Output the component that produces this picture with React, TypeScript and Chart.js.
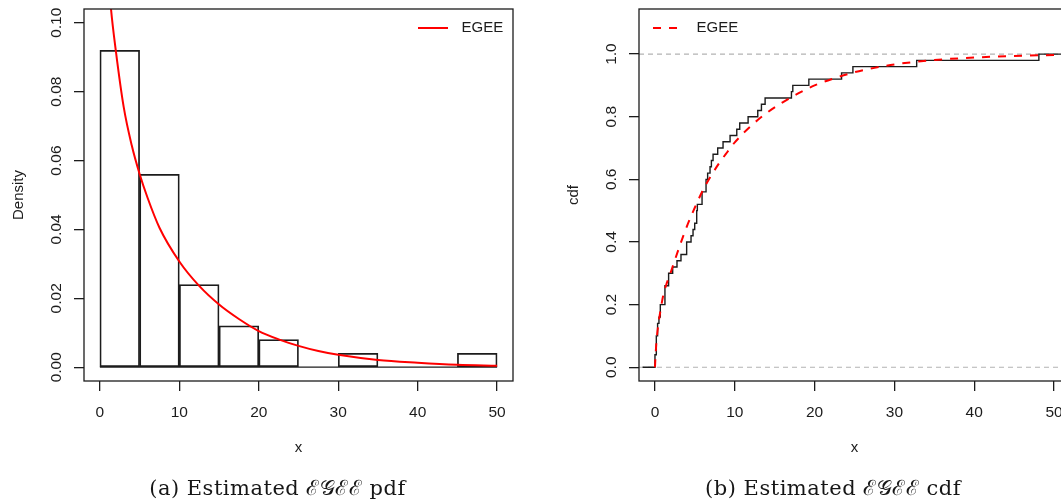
import React, { useEffect, useRef } from "react";
import { Chart, registerables } from "chart.js";

Chart.register(...registerables);

// ---------------- data ----------------
const histBreaks = [0, 5, 10, 15, 20, 25, 30, 35, 40, 45, 50];
const histDensity = [0.092, 0.056, 0.024, 0.012, 0.008, 0, 0.004, 0, 0, 0.004];

const pdfX = [1.2, 1.4, 2, 3, 4, 5, 6, 7.5, 10, 12.5, 15, 17.5, 20, 22.5, 25, 27.5, 30, 35, 40, 45, 50];
const pdfY = [0.11, 0.104, 0.092, 0.0755, 0.0645, 0.0561, 0.0492, 0.0405, 0.0307, 0.0236, 0.0182, 0.014, 0.0105, 0.0081, 0.0062, 0.0047, 0.0036, 0.0021, 0.0013, 0.0007, 0.0004];

const ecdfX = [-1.55, 0, 0.17, 0.33, 0.5, 0.67, 1.25, 1.71, 2.22, 2.76, 3.26, 3.97, 4.52, 4.77, 4.98, 5.23, 5.31, 5.9, 6.4, 6.6, 6.9, 7.07, 7.28, 7.86, 8.53, 9.41, 10.25, 10.62, 11.67, 12.88, 13.34, 13.8, 17.1, 17.27, 19.28, 23.38, 24.8, 32.79, 48.1, 53];
const ecdfY = [0, 0.04, 0.1, 0.14, 0.16, 0.2, 0.26, 0.3, 0.32, 0.34, 0.36, 0.4, 0.42, 0.44, 0.46, 0.5, 0.52, 0.56, 0.6, 0.62, 0.64, 0.66, 0.68, 0.7, 0.72, 0.74, 0.76, 0.78, 0.8, 0.82, 0.84, 0.86, 0.88, 0.9, 0.92, 0.94, 0.96, 0.98, 1.0, 1.0];

const cdfX = [0, 0.1, 0.25, 0.5, 0.75, 1, 1.5, 2, 3, 4, 5, 6, 7, 8, 9, 10, 12, 14, 16, 18, 20, 22.5, 25, 27.5, 30, 35, 40, 45, 50, 53];
const cdfY = [0, 0.05, 0.1, 0.15, 0.19, 0.225, 0.27, 0.305, 0.38, 0.45, 0.51, 0.565, 0.61, 0.65, 0.685, 0.718, 0.77, 0.812, 0.846, 0.875, 0.9, 0.923, 0.942, 0.956, 0.967, 0.981, 0.989, 0.994, 0.997, 0.998];

const refLinesY = [0, 1];

const xTicks = [0, 10, 20, 30, 40, 50];
const pdfYTicks = [0, 0.02, 0.04, 0.06, 0.08, 0.1];
const pdfYTickLabels = ["0.00", "0.02", "0.04", "0.06", "0.08", "0.10"];
const cdfYTicks = [0, 0.2, 0.4, 0.6, 0.8, 1.0];
const cdfYTickLabels = ["0.0", "0.2", "0.4", "0.6", "0.8", "1.0"];

const legendLabel = "EGEE";
const pdfYTitle = "Density";
const cdfYTitle = "cdf";
const xTitle = "x";
const captionA = "(a) Estimated \u2130\u{1D4A2}\u2130\u2130 pdf";
const captionB = "(b) Estimated \u2130\u{1D4A2}\u2130\u2130 cdf";

// ---------------- style ----------------
const FONT = "'Liberation Sans', Arial, Helvetica, sans-serif";
const INK = "#1c1c1c";
const RED = "#ff0000";

const rPlotPlugin = {
  id: "rPlot",
  afterDraw(chart: any, _args: any, opts: any) {
    const { ctx, chartArea } = chart;
    const ys = chart.scales.y;
    ctx.save();
    // box
    ctx.strokeStyle = INK;
    ctx.lineWidth = 1.3;
    ctx.strokeRect(chartArea.left, chartArea.top, chartArea.right - chartArea.left, chartArea.bottom - chartArea.top);
    // y tick labels (rotated, R style)
    ctx.fillStyle = INK;
    ctx.font = `15.5px ${FONT}`;
    ctx.textAlign = "center";
    ctx.textBaseline = "middle";
    opts.yTicks.forEach((v: number, i: number) => {
      const py = ys.getPixelForValue(v);
      ctx.save();
      ctx.translate(chartArea.left - 27.5, py);
      ctx.rotate(-Math.PI / 2);
      ctx.fillText(opts.yTickLabels[i], 0, 0);
      ctx.restore();
    });
    // axis titles
    ctx.font = `15px ${FONT}`;
    const midY = (chartArea.top + chartArea.bottom) / 2;
    ctx.save();
    ctx.translate(chartArea.left - 65.5, midY);
    ctx.rotate(-Math.PI / 2);
    ctx.fillText(opts.yTitle, 0, 0);
    ctx.restore();
    ctx.fillText(opts.xTitle, (chartArea.left + chartArea.right) / 2, 448);
    // legend
    const lg = opts.legend;
    const lx = lg.fromRight ? chartArea.right - lg.x : chartArea.left + lg.x;
    const ly = chartArea.top + 19;
    ctx.strokeStyle = RED;
    ctx.lineWidth = 2;
    ctx.setLineDash(lg.dash || []);
    ctx.beginPath();
    ctx.moveTo(lx, ly);
    ctx.lineTo(lx + lg.len, ly);
    ctx.stroke();
    ctx.setLineDash([]);
    ctx.textAlign = "left";
    ctx.fillText(legendLabel, lx + lg.textGap, ly);
    ctx.restore();
  },
};

function baseScales(xMin: number, xMax: number, yMin: number, yMax: number, yTicks: number[], yWidth: number, xHeight: number) {
  const grid = { drawOnChartArea: false, drawTicks: true, tickLength: 10, color: INK, lineWidth: 1.3, offset: false };
  return {
    x: {
      type: "linear",
      min: xMin,
      max: xMax,
      offset: false,
      afterBuildTicks: (s: any) => {
        s.ticks = xTicks.map((v) => ({ value: v }));
      },
      afterFit: (s: any) => {
        s.height = xHeight;
      },
      ticks: {
        autoSkip: false,
        maxRotation: 0,
        minRotation: 0,
        padding: 12,
        color: INK,
        font: { family: FONT, size: 15.5 },
        callback: (v: any) => String(v),
      },
      grid,
      border: { display: false },
    },
    y: {
      type: "linear",
      min: yMin,
      max: yMax,
      afterBuildTicks: (s: any) => {
        s.ticks = yTicks.map((v) => ({ value: v }));
      },
      afterFit: (s: any) => {
        s.width = yWidth;
      },
      ticks: { display: false },
      grid,
      border: { display: false },
    },
  };
}

function PdfChart() {
  const ref = useRef<HTMLCanvasElement | null>(null);
  useEffect(() => {
    if (!ref.current) return;
    const centers = histBreaks.slice(0, -1).map((b, i) => (b + histBreaks[i + 1]) / 2);
    const chart = new Chart(ref.current, {
      type: "bar",
      data: {
        datasets: [
          {
            type: "line",
            label: legendLabel,
            data: pdfX.map((x, i) => ({ x, y: pdfY[i] })),
            borderColor: RED,
            borderWidth: 2,
            pointRadius: 0,
            cubicInterpolationMode: "monotone",
            fill: false,
            order: 0,
          } as any,
          {
            type: "line",
            data: [
              { x: histBreaks[0], y: 0 },
              { x: histBreaks[histBreaks.length - 1], y: 0 },
            ],
            borderColor: INK,
            borderWidth: 1.3,
            pointRadius: 0,
            order: 2,
          } as any,
          {
            type: "bar",
            data: centers.map((x, i) => ({ x, y: histDensity[i] })),
            backgroundColor: "rgba(0,0,0,0)",
            borderColor: INK,
            borderWidth: 1.1,
            borderSkipped: false,
            barPercentage: 1,
            categoryPercentage: 1,
            order: 1,
          } as any,
        ],
      },
      options: {
        animation: false,
        responsive: false,
        maintainAspectRatio: false,
        events: [],
        layout: { padding: { left: 0, top: 9, right: 17, bottom: 0 } },
        plugins: {
          legend: { display: false },
          tooltip: { enabled: false },
          rPlot: {
            yTicks: pdfYTicks,
            yTickLabels: pdfYTickLabels,
            yTitle: pdfYTitle,
            xTitle: xTitle,
            legend: { fromRight: true, x: 95, len: 30, textGap: 43.5 },
          },
        } as any,
        scales: baseScales(-2, 52, -0.004, 0.104, pdfYTicks, 84, 122) as any,
      },
      plugins: [rPlotPlugin],
    });
    return () => chart.destroy();
  }, []);
  return <canvas ref={ref} width={530} height={503} style={{ position: "absolute", left: 0, top: 0, width: 530, height: 503 }} />;
}

function CdfChart() {
  const ref = useRef<HTMLCanvasElement | null>(null);
  useEffect(() => {
    if (!ref.current) return;
    const chart = new Chart(ref.current, {
      type: "line",
      data: {
        datasets: [
          ...refLinesY.map((v) => ({
            data: [
              { x: -2, y: v },
              { x: 52, y: v },
            ],
            borderColor: "#b3b3b3",
            borderWidth: 1.1,
            borderDash: [5, 4],
            pointRadius: 0,
            order: 3,
          })),
          {
            data: ecdfX.map((x, i) => ({ x, y: ecdfY[i] })),
            borderColor: INK,
            borderWidth: 1.4,
            stepped: "before",
            pointRadius: 0,
            order: 1,
          },
          {
            label: legendLabel,
            data: cdfX.map((x, i) => ({ x, y: cdfY[i] })),
            borderColor: RED,
            borderWidth: 2,
            borderDash: [8, 8],
            cubicInterpolationMode: "monotone",
            pointRadius: 0,
            order: 0,
          },
        ] as any,
      },
      options: {
        animation: false,
        responsive: false,
        maintainAspectRatio: false,
        events: [],
        layout: { padding: { left: 0, top: 9, right: 20, bottom: 0 } },
        plugins: {
          legend: { display: false },
          tooltip: { enabled: false },
          rPlot: {
            yTicks: cdfYTicks,
            yTickLabels: cdfYTickLabels,
            yTitle: cdfYTitle,
            xTitle: xTitle,
            legend: { fromRight: false, x: 14, len: 24, textGap: 43.5, dash: [8, 8] },
          },
        } as any,
        scales: baseScales(-2, 52, -0.044, 1.144, cdfYTicks, 109, 122) as any,
      },
      plugins: [rPlotPlugin],
    });
    return () => chart.destroy();
  }, []);
  return <canvas ref={ref} width={560} height={503} style={{ position: "absolute", left: 530, top: 0, width: 560, height: 503 }} />;
}

const captionStyle: React.CSSProperties = {
  position: "absolute",
  top: 474,
  fontFamily: "'DejaVu Serif', 'Liberation Serif', serif",
  fontSize: 21,
  letterSpacing: "0.5px",
  color: "#161616",
  textAlign: "center",
  whiteSpace: "nowrap",
  lineHeight: "28px",
};

export default function App() {
  return (
    <div style={{ position: "fixed", left: 0, top: 0, width: 1061, height: 503, overflow: "hidden", background: "#fff" }}>
      <PdfChart />
      <CdfChart />
      <div style={{ ...captionStyle, left: 0, width: 555 }}>{captionA}</div>
      <div style={{ ...captionStyle, left: 555, width: 556 }}>{captionB}</div>
    </div>
  );
}
